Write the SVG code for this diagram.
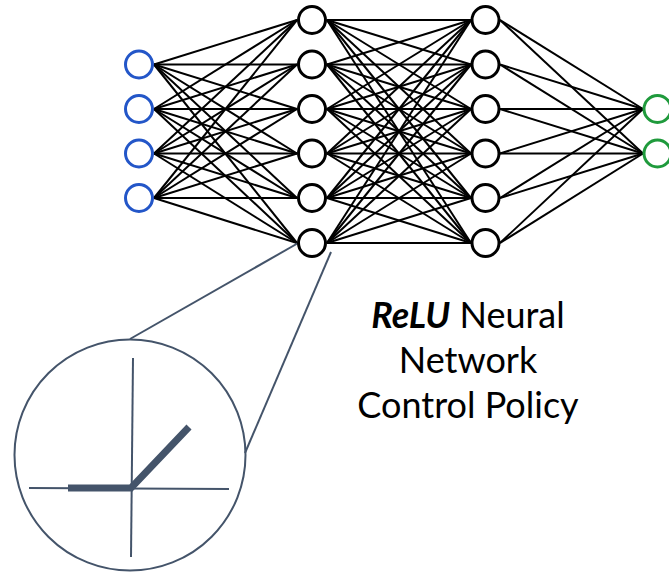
<svg xmlns="http://www.w3.org/2000/svg" width="669" height="572" viewBox="0 0 669 572">
<style>
.c{stroke:#000;stroke-width:2;fill:none}
.n{fill:#fff;stroke:#000;stroke-width:3}
.in{fill:#fff;stroke:#2356C8;stroke-width:3}
.out{fill:#fff;stroke:#1F9A3C;stroke-width:3}
.s{stroke:#44546A;fill:none;stroke-width:2}
.t{font-family:Lato,"Liberation Sans",sans-serif;font-size:36px;fill:#000;text-anchor:middle}
</style>
<rect width="669" height="572" fill="#fff"/>
<g id="connectors">
<g class="c">
<line x1="154" y1="64.5" x2="297" y2="20"/><line x1="154" y1="64.5" x2="297" y2="64.5"/><line x1="154" y1="64.5" x2="297" y2="109"/><line x1="154" y1="64.5" x2="297" y2="153.5"/><line x1="154" y1="64.5" x2="297" y2="198"/><line x1="154" y1="64.5" x2="297" y2="243"/>
<line x1="154" y1="109" x2="297" y2="20"/><line x1="154" y1="109" x2="297" y2="64.5"/><line x1="154" y1="109" x2="297" y2="109"/><line x1="154" y1="109" x2="297" y2="153.5"/><line x1="154" y1="109" x2="297" y2="198"/><line x1="154" y1="109" x2="297" y2="243"/>
<line x1="154" y1="153.5" x2="297" y2="20"/><line x1="154" y1="153.5" x2="297" y2="64.5"/><line x1="154" y1="153.5" x2="297" y2="109"/><line x1="154" y1="153.5" x2="297" y2="153.5"/><line x1="154" y1="153.5" x2="297" y2="198"/><line x1="154" y1="153.5" x2="297" y2="243"/>
<line x1="154" y1="198" x2="297" y2="20"/><line x1="154" y1="198" x2="297" y2="64.5"/><line x1="154" y1="198" x2="297" y2="109"/><line x1="154" y1="198" x2="297" y2="153.5"/><line x1="154" y1="198" x2="297" y2="198"/><line x1="154" y1="198" x2="297" y2="243"/>
<line x1="327" y1="20" x2="471" y2="20"/><line x1="327" y1="20" x2="471" y2="64.5"/><line x1="327" y1="20" x2="471" y2="109"/><line x1="327" y1="20" x2="471" y2="153.5"/><line x1="327" y1="20" x2="471" y2="198"/><line x1="327" y1="20" x2="471" y2="243"/>
<line x1="327" y1="64.5" x2="471" y2="20"/><line x1="327" y1="64.5" x2="471" y2="64.5"/><line x1="327" y1="64.5" x2="471" y2="109"/><line x1="327" y1="64.5" x2="471" y2="153.5"/><line x1="327" y1="64.5" x2="471" y2="198"/><line x1="327" y1="64.5" x2="471" y2="243"/>
<line x1="327" y1="109" x2="471" y2="20"/><line x1="327" y1="109" x2="471" y2="64.5"/><line x1="327" y1="109" x2="471" y2="109"/><line x1="327" y1="109" x2="471" y2="153.5"/><line x1="327" y1="109" x2="471" y2="198"/><line x1="327" y1="109" x2="471" y2="243"/>
<line x1="327" y1="153.5" x2="471" y2="20"/><line x1="327" y1="153.5" x2="471" y2="64.5"/><line x1="327" y1="153.5" x2="471" y2="109"/><line x1="327" y1="153.5" x2="471" y2="153.5"/><line x1="327" y1="153.5" x2="471" y2="198"/><line x1="327" y1="153.5" x2="471" y2="243"/>
<line x1="327" y1="198" x2="471" y2="20"/><line x1="327" y1="198" x2="471" y2="64.5"/><line x1="327" y1="198" x2="471" y2="109"/><line x1="327" y1="198" x2="471" y2="153.5"/><line x1="327" y1="198" x2="471" y2="198"/><line x1="327" y1="198" x2="471" y2="243"/>
<line x1="327" y1="243" x2="471" y2="20"/><line x1="327" y1="243" x2="471" y2="64.5"/><line x1="327" y1="243" x2="471" y2="109"/><line x1="327" y1="243" x2="471" y2="153.5"/><line x1="327" y1="243" x2="471" y2="198"/><line x1="327" y1="243" x2="471" y2="243"/>
<line x1="500" y1="20" x2="643" y2="109"/><line x1="500" y1="20" x2="643" y2="153.5"/>
<line x1="500" y1="64.5" x2="643" y2="109"/><line x1="500" y1="64.5" x2="643" y2="153.5"/>
<line x1="500" y1="109" x2="643" y2="109"/><line x1="500" y1="109" x2="643" y2="153.5"/>
<line x1="500" y1="153.5" x2="643" y2="109"/><line x1="500" y1="153.5" x2="643" y2="153.5"/>
<line x1="500" y1="198" x2="643" y2="109"/><line x1="500" y1="198" x2="643" y2="153.5"/>
<line x1="500" y1="243" x2="643" y2="109"/><line x1="500" y1="243" x2="643" y2="153.5"/>
</g>
<g class="s">
<line x1="130" y1="339" x2="300" y2="242"/>
<line x1="245" y1="453" x2="331" y2="252"/>
</g>
</g>
<g id="input-1"><circle class="in" cx="139" cy="64.5" r="13.5"/></g>
<g id="input-2"><circle class="in" cx="139" cy="109" r="13.5"/></g>
<g id="input-3"><circle class="in" cx="139" cy="153.5" r="13.5"/></g>
<g id="input-4"><circle class="in" cx="139" cy="198" r="13.5"/></g>
<g id="h1-1"><circle class="n" cx="312" cy="20" r="13.5"/></g>
<g id="h1-2"><circle class="n" cx="312" cy="64.5" r="13.5"/></g>
<g id="h1-3"><circle class="n" cx="312" cy="109" r="13.5"/></g>
<g id="h1-4"><circle class="n" cx="312" cy="153.5" r="13.5"/></g>
<g id="h1-5"><circle class="n" cx="312" cy="198" r="13.5"/></g>
<g id="h1-6"><circle class="n" cx="312" cy="243" r="13.5"/></g>
<g id="h2-1"><circle class="n" cx="485.5" cy="20" r="13.5"/></g>
<g id="h2-2"><circle class="n" cx="485.5" cy="64.5" r="13.5"/></g>
<g id="h2-3"><circle class="n" cx="485.5" cy="109" r="13.5"/></g>
<g id="h2-4"><circle class="n" cx="485.5" cy="153.5" r="13.5"/></g>
<g id="h2-5"><circle class="n" cx="485.5" cy="198" r="13.5"/></g>
<g id="h2-6"><circle class="n" cx="485.5" cy="243" r="13.5"/></g>
<g id="output-1"><circle class="out" cx="657.5" cy="109" r="13.5"/></g>
<g id="output-2"><circle class="out" cx="657.5" cy="153.5" r="13.5"/></g>
<g id="relu-zoom">
<circle class="s" cx="130" cy="455" r="115.5"/>
<line class="s" x1="133" y1="358" x2="131" y2="557"/>
<line class="s" x1="29" y1="488" x2="229" y2="489"/>
<polyline points="68,488 131,488 189,427" fill="none" stroke="#44546A" stroke-width="7"/>
</g>
<g id="label">
<text class="t" x="468" y="328"><tspan font-weight="bold" font-style="italic">ReLU</tspan> Neural</text>
<text class="t" x="468" y="373">Network</text>
<text class="t" x="468" y="418">Control Policy</text>
</g>
</svg>
